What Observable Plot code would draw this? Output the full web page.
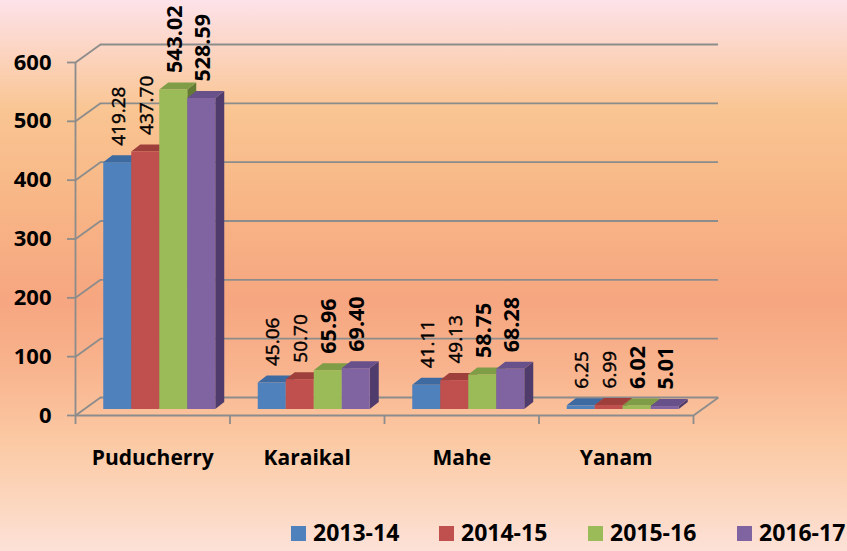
<!DOCTYPE html>
<html>
<head>
<meta charset="utf-8">
<script src="https://cdn.jsdelivr.net/npm/d3@7"></script>
<script src="https://cdn.jsdelivr.net/npm/@observablehq/plot@0.6"></script>
<style>
  html, body { margin: 0; padding: 0; }
  body {
    width: 847px; height: 551px; overflow: hidden;
    font-family: "Open Sans", sans-serif;
    background: linear-gradient(to bottom,
      #fde2ea 0px, #fcd6c6 45px, #f9c592 110px, #f8b686 200px,
      #f6a680 300px, #f8b48e 370px, #fbc9a3 440px, #fcd6bd 500px, #fde1d8 551px);
  }
  #chart svg { display: block; }
  #legend { position: relative; height: 41px; }
  .item { position: absolute; top: 0; height: 41px; display: flex; align-items: center; }
  .sw { width: 15px; height: 15px; margin-right: 7px; margin-top: 6px; }
  .lab { font-weight: 700; font-size: 23px; color: #000; line-height: 1; margin-top: 4px; }
</style>
</head>
<body>
<div id="chart"></div>
<div id="legend"></div>
<script>
// ---- data ----
const categories = ["Puducherry", "Karaikal", "Mahe", "Yanam"];
const seriesNames = ["2013-14", "2014-15", "2015-16", "2016-17"];
const values2013 = [419.28, 45.06, 41.11, 6.25];
const values2014 = [437.70, 50.70, 49.13, 6.99];
const values2015 = [543.02, 65.96, 58.75, 6.02];
const values2016 = [528.59, 69.40, 68.28, 5.01];
const yTicks = [0, 100, 200, 300, 400, 500, 600];

// ---- styles ----
const frontColors = ["#4f81bd", "#c0504d", "#9bbb59", "#8064a2"];
const topColors   = ["#3d6aa1", "#9f3f3c", "#7f9d46", "#68508a"];
const sideColors  = ["#2f5283", "#7f302e", "#637b35", "#4f3c6d"];
const boldLabels  = [false, false, true, true];
const gridColor = "#8c8c8c";

// ---- layout ----
const W = 847, H = 510;
const mL = 75, mR = 154, mT = 62, mB = 95;
const KX = (W - mL - mR) / categories.length;   // px per x unit
const KY = (H - mT - mB) / 600;                 // px per y unit
const barW = 28 / KX;
const depthX = 9 / KX, depthY = 7 / KY;         // bar top/side depth
const wallX = 25 / KX, wallY = 18 / KY;         // floor / wall depth
const barDX = 7, barDY = -6;                    // bar plane offset (px)

const allSeries = [values2013, values2014, values2015, values2016];
const bars = [];
categories.forEach((c, i) => {
  allSeries.forEach((vals, j) => {
    const x0 = i + 0.5 + (j - 2) * barW;
    bars.push({cat: c, s: j, v: vals[i], x0, x1: x0 + barW, id: i * 4 + j});
  });
});
const topPts = [], sidePts = [];
bars.forEach(b => {
  topPts.push({id: b.id, s: b.s, x: b.x0, y1: b.v, y2: b.v});
  topPts.push({id: b.id, s: b.s, x: b.x0 + depthX, y1: b.v, y2: b.v + depthY});
  topPts.push({id: b.id, s: b.s, x: b.x1, y1: b.v, y2: b.v + depthY});
  topPts.push({id: b.id, s: b.s, x: b.x1 + depthX, y1: b.v + depthY, y2: b.v + depthY});
  sidePts.push({id: b.id, s: b.s, x: b.x1, y1: 0, y2: b.v});
  sidePts.push({id: b.id, s: b.s, x: b.x1 + depthX, y1: depthY, y2: b.v + depthY});
});

const plot = Plot.plot({
  width: W, height: H,
  marginLeft: mL, marginRight: mR, marginTop: mT, marginBottom: mB,
  x: {type: "linear", domain: [0, categories.length], axis: null},
  y: {domain: [0, 600], axis: null},
  color: {type: "identity"},
  style: {background: "transparent", fontFamily: "'Open Sans', sans-serif", overflow: "visible"},
  marks: [
    // back wall gridlines
    Plot.ruleY(yTicks, {x1: () => 0, x2: () => categories.length, dx: 25, dy: -18, stroke: gridColor, strokeWidth: 1.8}),
    // side wall diagonals
    Plot.link(yTicks, {x1: () => 0, y1: d => d, x2: () => wallX, y2: d => d + wallY, stroke: gridColor, strokeWidth: 1.8}),
    // front axis line
    Plot.ruleX([0], {y1: () => 0, y2: () => 600, stroke: gridColor, strokeWidth: 1.8}),
    // y tick marks
    Plot.ruleY(yTicks, {x1: () => -8 / KX, x2: () => 0, stroke: gridColor, strokeWidth: 1.8}),
    // floor front edge and right edge
    Plot.ruleY([0], {x1: () => 0, x2: () => categories.length, stroke: gridColor, strokeWidth: 1.8}),
    Plot.link([0], {x1: () => categories.length, y1: () => 0, x2: () => categories.length + wallX, y2: () => wallY, stroke: gridColor, strokeWidth: 1.8}),
    // category ticks
    Plot.ruleX(d3.range(categories.length + 1), {y1: () => 0, y2: () => -9 / KY, stroke: gridColor, strokeWidth: 1.8}),
    // bars: side faces, top faces, front faces
    Plot.area(sidePts, {x1: "x", y1: "y1", y2: "y2", z: "id", fill: d => sideColors[d.s], dx: barDX, dy: barDY}),
    Plot.area(topPts, {x1: "x", y1: "y1", y2: "y2", z: "id", fill: d => topColors[d.s], dx: barDX, dy: barDY}),
    Plot.rect(bars, {x1: "x0", x2: "x1", y1: () => 0, y2: "v", fill: d => frontColors[d.s], dx: barDX, dy: barDY}),
    // y labels
    Plot.text(yTicks, {x: () => 0, y: d => d, text: d => String(d), textAnchor: "end", dx: -24, fontSize: 22, fontWeight: 700, fill: "#000"}),
    // category labels
    Plot.text(categories, {x: (d, i) => i + 0.5, y: () => 0, text: d => d, dy: 43, fontSize: 21, fontWeight: 700, fill: "#000"}),
    // value labels (regular)
    Plot.text(bars.filter(d => !boldLabels[d.s]), {x: d => (d.x0 + d.x1) / 2, y: "v", text: d => d.v.toFixed(2), rotate: -90, textAnchor: "start",
      dx: barDX + 1, dy: barDY - 17, fontSize: 19, fill: "#000", stroke: "#000", strokeWidth: 0.45}),
    // value labels (bold)
    Plot.text(bars.filter(d => boldLabels[d.s]), {x: d => (d.x0 + d.x1) / 2, y: "v", text: d => d.v.toFixed(2), rotate: -90, textAnchor: "start",
      dx: barDX + 1, dy: barDY - 17, fontSize: 21.5, fontWeight: 700, fill: "#000"})
  ]
});
document.getElementById("chart").appendChild(plot);

// legend
const legend = document.getElementById("legend");
const legendX = [291, 439, 588, 737];
seriesNames.forEach((s, j) => {
  const it = document.createElement("div");
  it.className = "item";
  it.style.left = legendX[j] + "px";
  const sw = document.createElement("div");
  sw.className = "sw";
  sw.style.background = frontColors[j];
  const lb = document.createElement("span");
  lb.className = "lab";
  lb.textContent = s;
  it.appendChild(sw); it.appendChild(lb);
  legend.appendChild(it);
});
</script>
</body>
</html>
